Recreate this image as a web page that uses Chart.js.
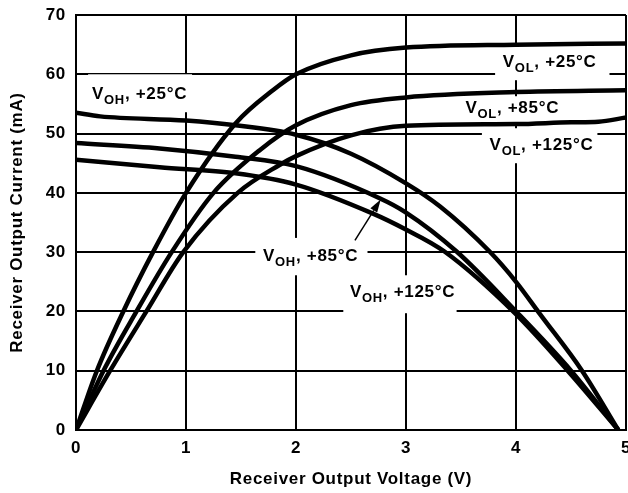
<!DOCTYPE html>
<html>
<head>
<meta charset="utf-8">
<script src="https://cdn.jsdelivr.net/npm/chart.js@4.4.1/dist/chart.umd.min.js"></script>
<style>
  html, body { margin: 0; padding: 0; background: #fff; }
  canvas { display: block; }
</style>
</head>
<body>
<canvas id="chart" width="628" height="493"></canvas>
<script>
// Receiver output current vs output voltage
// each point is [voltage (V), current (mA)]
const vol25 = [[0, 0], [0.19, 10], [0.43, 20], [0.70, 30], [1.0, 40], [1.45, 51.7], [1.79, 57.3], [2.0, 60], [2.5, 63.2], [3.0, 64.5], [4.0, 65.0], [5.0, 65.2]];
const vol85 = [[0, 0], [0.25, 10], [0.55, 20], [0.87, 30], [1.25, 40], [1.67, 47.2], [2.0, 51.4], [2.5, 54.8], [3.0, 56.1], [4.0, 57.0], [5.0, 57.3]];
const vol125 = [[0, 0], [0.31, 10], [0.64, 20], [0.975, 30], [1.47, 40], [1.85, 44.7], [2.0, 46.2], [2.5, 49.7], [3.0, 51.3], [4.0, 51.6], [4.5, 51.9], [4.75, 52.0], [5.0, 52.7]];
const voh25 = [[0, 53.5], [0.22, 52.9], [1.0, 52.2], [1.45, 51.4], [2.0, 49.8], [2.5, 46.6], [3.0, 41.6], [3.31, 37.7], [3.76, 30.1], [4.0, 25.0], [4.22, 19.5], [4.6, 10], [4.93, 0]];
const voh85 = [[0, 48.4], [0.76, 47.5], [1.45, 46.1], [2.0, 44.5], [2.76, 39.1], [2.99, 36.8], [3.46, 30.1], [3.99, 20.2], [4.5, 10], [4.93, 0]];
const voh125 = [[0, 45.6], [0.76, 44.3], [1.45, 43.3], [2.0, 41.4], [2.7, 36.5], [2.99, 33.9], [3.35, 30.1], [3.99, 19.7], [4.47, 10], [4.93, 0]];

const FONT = '"Liberation Sans", Arial, Helvetica, sans-serif';

// in-plot labels: text anchor (left, baseline) and white box [x0, x1, y0, y1] in data units
const curveLabels = [
  { sub: 'OH', rest: ', +25°C', x: 0.145, y: 55.8, box: [0.11, 1.055, 53.6, 60.0] },
  { sub: 'OL', rest: ', +25°C', x: 3.88, y: 61.2, box: [3.81, 4.85, 59.0, 64.6] },
  { sub: 'OL', rest: ', +85°C', x: 3.54, y: 53.5, box: [3.49, 4.45, 51.6, 56.3] },
  { sub: 'OL', rest: ', +125°C', x: 3.76, y: 47.2, box: [3.69, 4.74, 45.0, 50.9] },
  { sub: 'OH', rest: ', +85°C', x: 1.70, y: 28.5, box: [1.63, 2.65, 26.1, 32.4] },
  { sub: 'OH', rest: ', +125°C', x: 2.49, y: 22.4, box: [2.43, 3.46, 19.7, 26.1] }
];
const arrowFrom = [2.536, 32.0];
const arrowTo = [2.77, 38.9];

const labelPlugin = {
  id: 'curveLabels',
  beforeDraw(chart) {
    chart.ctx.letterSpacing = '0.7px';
  },
  beforeDatasetsDraw(chart) {
    const { ctx, scales: { x, y } } = chart;
    ctx.save();
    curveLabels.forEach(l => {
      const [x0, x1, y0, y1] = l.box;
      const left = x.getPixelForValue(x0);
      const top = y.getPixelForValue(y1);
      ctx.fillStyle = '#fff';
      ctx.fillRect(left, top, x.getPixelForValue(x1) - left, y.getPixelForValue(y0) - top);

      let px = x.getPixelForValue(l.x);
      const py = y.getPixelForValue(l.y);
      ctx.fillStyle = '#000';
      ctx.textBaseline = 'alphabetic';
      ctx.textAlign = 'left';
      ctx.font = 'bold 17px ' + FONT;
      ctx.fillText('V', px, py);
      px += ctx.measureText('V').width;
      ctx.font = 'bold 13px ' + FONT;
      ctx.fillText(l.sub, px, py + 5);
      px += ctx.measureText(l.sub).width;
      ctx.font = 'bold 17px ' + FONT;
      ctx.fillText(l.rest, px, py);
    });
    ctx.restore();
  },
  afterDatasetsDraw(chart) {
    // little arrow from the V_OH +85°C label to its curve
    const { ctx, scales: { x, y } } = chart;
    const sx = x.getPixelForValue(arrowFrom[0]), sy = y.getPixelForValue(arrowFrom[1]);
    const tx = x.getPixelForValue(arrowTo[0]), ty = y.getPixelForValue(arrowTo[1]);
    const ang = Math.atan2(ty - sy, tx - sx);
    const len = 13, half = 4;
    const bx = tx - len * Math.cos(ang), by = ty - len * Math.sin(ang);
    ctx.save();
    ctx.strokeStyle = '#000';
    ctx.fillStyle = '#000';
    ctx.lineWidth = 1.5;
    ctx.beginPath();
    ctx.moveTo(sx, sy);
    ctx.lineTo(bx, by);
    ctx.stroke();
    ctx.beginPath();
    ctx.moveTo(tx, ty);
    ctx.lineTo(bx + half * Math.sin(ang), by - half * Math.cos(ang));
    ctx.lineTo(bx - half * Math.sin(ang), by + half * Math.cos(ang));
    ctx.closePath();
    ctx.fill();
    ctx.restore();
  }
};

function toPoints(arr) {
  return arr.map(([v, i]) => ({ x: v, y: i }));
}

const seriesList = [vol25, vol85, vol125, voh25, voh85, voh125];
const tickFont = { family: FONT, size: 17, weight: 'bold' };

const ctx = document.getElementById('chart');
new Chart(ctx, {
  type: 'line',
  data: {
    datasets: seriesList.map(s => ({
      data: toPoints(s),
      borderColor: '#000',
      borderWidth: 4.5,
      pointRadius: 0,
      fill: false,
      cubicInterpolationMode: 'monotone'
    }))
  },
  options: {
    responsive: false,
    animation: false,
    devicePixelRatio: 1,
    layout: { padding: { top: 15, right: 2, left: 0, bottom: 0 } },
    plugins: {
      legend: { display: false },
      tooltip: { enabled: false }
    },
    scales: {
      x: {
        type: 'linear',
        min: 0,
        max: 5,
        ticks: { stepSize: 1, color: '#000', padding: 8, font: tickFont },
        grid: { color: '#000', lineWidth: 2, drawTicks: false },
        border: { color: '#000', width: 2 },
        title: {
          display: true,
          text: 'Receiver Output Voltage (V)',
          color: '#000',
          font: tickFont,
          padding: { top: 0, bottom: 3 }
        },
        afterFit(scale) {
          scale.height = 63;
          scale.paddingLeft = 0;
          scale.paddingRight = 0;
        }
      },
      y: {
        type: 'linear',
        min: 0,
        max: 70,
        ticks: { stepSize: 10, color: '#000', padding: 10, font: tickFont },
        grid: { color: '#000', lineWidth: 2, drawTicks: false },
        border: { color: '#000', width: 2 },
        title: {
          display: true,
          text: 'Receiver Output Current (mA)',
          color: '#000',
          font: tickFont,
          padding: { top: 7, bottom: 0 }
        },
        afterFit(scale) {
          scale.width = 76;
          scale.paddingTop = 0;
          scale.paddingBottom = 0;
        }
      }
    }
  },
  plugins: [labelPlugin]
});
</script>
</body>
</html>
